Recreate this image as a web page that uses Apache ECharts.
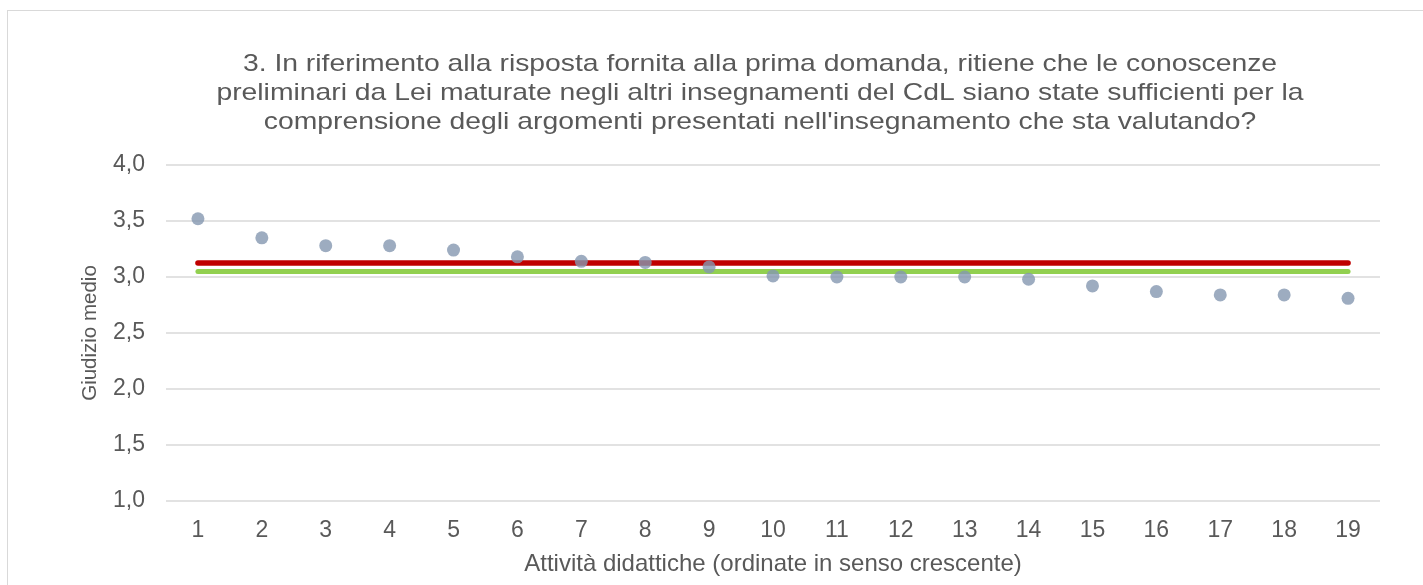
<!DOCTYPE html>
<html><head><meta charset="utf-8">
<script src="https://cdn.jsdelivr.net/npm/echarts@6/dist/echarts.min.js"></script>
<style>
html,body{margin:0;padding:0;background:#fff;overflow:hidden;}
#frame{position:absolute;left:7px;top:10px;width:1430px;height:600px;border:1.5px solid #D9D9D9;box-sizing:border-box;}
#c{position:absolute;left:0;top:0;width:1423px;height:585px;}
</style></head>
<body>
<div id="frame"></div>
<div id="c"></div>
<script>
const categories = ['1','2','3','4','5','6','7','8','9','10','11','12','13','14','15','16','17','18','19'];
const scores = [3.52,3.35,3.28,3.28,3.24,3.18,3.14,3.13,3.09,3.01,3.00,3.00,3.00,2.98,2.92,2.87,2.84,2.84,2.81];
const redRef = 3.13;
const greenRef = 3.05;
const yTicks = [1.0,1.5,2.0,2.5,3.0,3.5,4.0];
const titleText = "3. In riferimento alla risposta fornita alla prima domanda, ritiene che le conoscenze\npreliminari da Lei maturate negli altri insegnamenti del CdL siano state sufficienti per la\ncomprensione degli argomenti presentati nell'insegnamento che sta valutando?";
const yName = 'Giudizio medio';
const xName = 'Attività didattiche (ordinate in senso crescente)';

const chart = echarts.init(document.getElementById('c'), null, {renderer:'canvas'});
const font = 'Liberation Sans, Arial, sans-serif';
chart.setOption({
  animation:false,
  graphic:[{type:'text',x:760,y:50,scaleX:1.18,scaleY:1,
    style:{text:titleText,fontFamily:font,fontSize:24,fill:'#595959',lineHeight:29,
      align:'center',verticalAlign:'top'}}],
  grid:{left:166,right:43,top:165,bottom:84},
  xAxis:{type:'category',data:categories,boundaryGap:true,
    axisLine:{show:false},axisTick:{show:false},
    axisLabel:{fontFamily:font,fontSize:23,color:'#595959',margin:18},
    name:xName,nameLocation:'middle',nameGap:51,
    nameTextStyle:{fontFamily:font,fontSize:24,color:'#595959'}},
  yAxis:{type:'value',min:1,max:4,interval:0.5,
    axisLine:{show:false},axisTick:{show:false},
    splitLine:{lineStyle:{color:'#D9D9D9',width:1.5}},
    axisLabel:{fontFamily:font,fontSize:23,color:'#595959',margin:21,
      formatter:v=>yTicks.includes(v)?v.toFixed(1).replace('.',','):''},
    name:yName,nameLocation:'middle',nameGap:65,
    nameTextStyle:{fontFamily:font,fontSize:20.5,color:'#595959'}},
  series:[
    {type:'line',data:[],z:2,
      markLine:{silent:true,symbol:['none','none'],label:{show:false},
        data:[
          [{coord:[categories[0],redRef],lineStyle:{color:'#C00000',width:5.5,type:'solid',cap:'round'}},{coord:[categories[categories.length-1],redRef]}],
          [{coord:[categories[0],greenRef],lineStyle:{color:'#92D050',width:5,type:'solid',cap:'round'}},{coord:[categories[categories.length-1],greenRef]}]
        ]}},
    {type:'scatter',data:scores,symbol:'circle',symbolSize:13,z:5,
      itemStyle:{color:'#8497B0'}}
  ]
});
</script>
</body></html>
